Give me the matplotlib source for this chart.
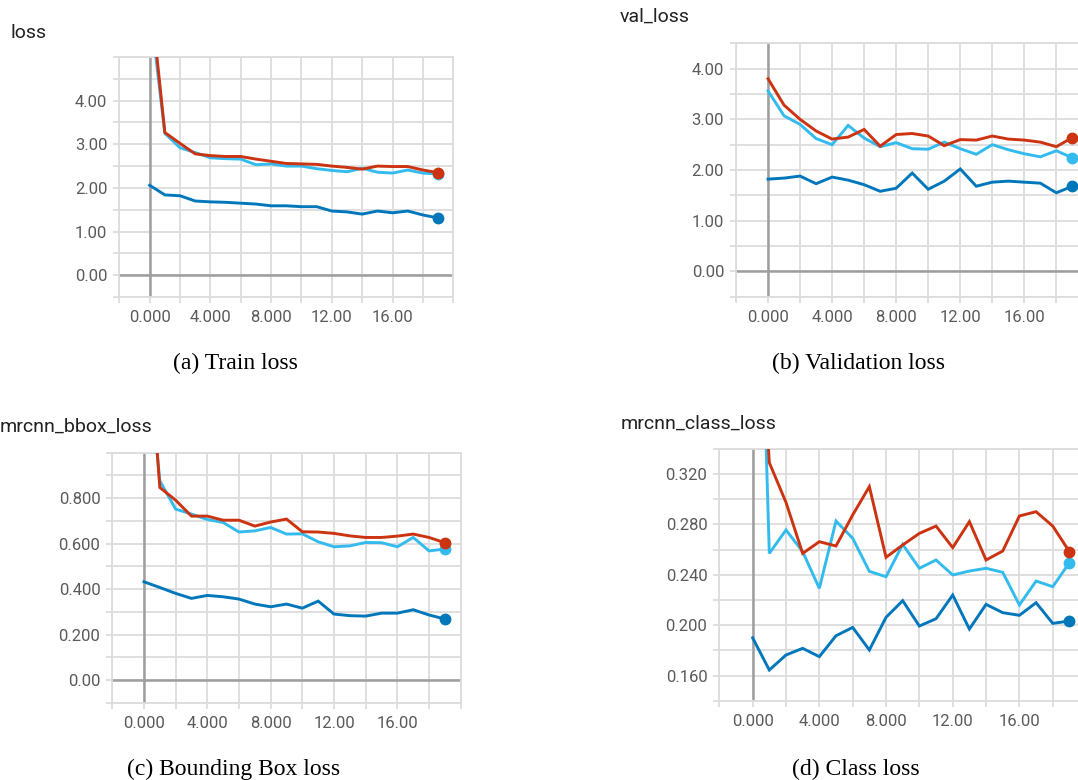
import numpy as np
import matplotlib
matplotlib.use("Agg")
import matplotlib.pyplot as plt

epochs = list(range(20))

# (a) Train loss
train_dark = [2.06, 1.84, 1.82, 1.70, 1.68, 1.67, 1.65, 1.63, 1.59, 1.59,
              1.57, 1.57, 1.47, 1.45, 1.40, 1.47, 1.43, 1.47, 1.38, 1.31]
train_light = [6.2, 3.25, 2.92, 2.81, 2.69, 2.67, 2.66, 2.53, 2.55, 2.50,
               2.50, 2.44, 2.40, 2.37, 2.45, 2.36, 2.34, 2.41, 2.34, 2.32]
train_red = [6.6, 3.27, 3.02, 2.78, 2.74, 2.72, 2.72, 2.66, 2.61, 2.56,
             2.55, 2.54, 2.50, 2.47, 2.43, 2.50, 2.49, 2.49, 2.41, 2.35]

# (b) Validation loss
val_dark = [1.82, 1.84, 1.88, 1.73, 1.86, 1.80, 1.71, 1.58, 1.64, 1.94,
            1.62, 1.78, 2.02, 1.68, 1.76, 1.78, 1.76, 1.74, 1.55, 1.68]
val_light = [3.56, 3.07, 2.90, 2.62, 2.50, 2.88, 2.63, 2.46, 2.54, 2.42,
             2.41, 2.55, 2.42, 2.31, 2.50, 2.40, 2.32, 2.26, 2.38, 2.24]
val_red = [3.80, 3.28, 3.00, 2.77, 2.61, 2.65, 2.80, 2.47, 2.70, 2.72,
           2.67, 2.48, 2.60, 2.59, 2.67, 2.61, 2.59, 2.55, 2.46, 2.64]

# (c) Bounding box loss
bbox_dark = [0.432, 0.407, 0.381, 0.359, 0.372, 0.366, 0.356, 0.334, 0.322, 0.334,
             0.316, 0.347, 0.290, 0.283, 0.281, 0.294, 0.294, 0.309, 0.286, 0.268]
bbox_light = [1.6, 0.876, 0.752, 0.730, 0.706, 0.693, 0.651, 0.656, 0.671, 0.642,
              0.643, 0.608, 0.586, 0.590, 0.605, 0.604, 0.586, 0.627, 0.568, 0.576]
bbox_red = [1.8, 0.847, 0.791, 0.721, 0.721, 0.703, 0.703, 0.677, 0.695, 0.708,
            0.652, 0.651, 0.645, 0.634, 0.627, 0.627, 0.633, 0.642, 0.627, 0.604]

# (d) Class loss
cls_dark = [0.190, 0.1645, 0.1764, 0.1817, 0.1751, 0.1917, 0.1983, 0.1804, 0.2063, 0.2195,
            0.1994, 0.2052, 0.2240, 0.1970, 0.2166, 0.2100, 0.2079, 0.2179, 0.2015, 0.2034]
cls_light = [0.70, 0.257, 0.2756, 0.2584, 0.2293, 0.2827, 0.2690, 0.2428, 0.2385, 0.2642,
             0.2452, 0.2518, 0.2399, 0.2430, 0.2452, 0.2420, 0.2161, 0.2351, 0.2306, 0.2497]
cls_red = [0.55, 0.329, 0.2975, 0.257, 0.2663, 0.2629, 0.2875, 0.310, 0.2539, 0.2637,
           0.2729, 0.2787, 0.2616, 0.2822, 0.2518, 0.2589, 0.2867, 0.2901, 0.2787, 0.2584]

titles = ["loss", "val_loss", "mrcnn_bbox_loss", "mrcnn_class_loss"]
captions = ["(a) Train loss", "(b) Validation loss", "(c) Bounding Box loss", "(d) Class loss"]
x_tick_labels = ["0.000", "4.000", "8.000", "12.00", "16.00"]

C_DARK = "#0077bb"
C_LIGHT = "#33bbee"
C_RED = "#cc3311"
GRID = "#dcdcdc"
ZERO = "#9e9e9e"
TICKC = "#5a5a5a"

fig = plt.figure(figsize=(10.78, 7.80), dpi=100)

W, H = 1078.0, 780.0

def make_axes(left_px, right_px, top_px, bottom_px):
    return fig.add_axes([left_px / W, 1 - bottom_px / H,
                         (right_px - left_px) / W, (bottom_px - top_px) / H])

panels = [
    dict(box=(119.3, 453.3, 57.0, 297.0), ylim=(-0.5, 5.0), ystep=0.5,
         yt=[0, 1, 2, 3, 4], ytl=["0.00", "1.00", "2.00", "3.00", "4.00"],
         data=(train_dark, train_light, train_red),
         title_xy=(10, 33), cap_xy=(235, 363)),
    dict(box=(736.0, 1088.4, 43.3, 296.7), ylim=(-0.5, 4.5), ystep=0.5,
         yt=[0, 1, 2, 3, 4], ytl=["0.00", "1.00", "2.00", "3.00", "4.00"],
         data=(val_dark, val_light, val_red),
         title_xy=(620, 17), cap_xy=(859, 363)),
    dict(box=(112.3, 460.7, 452.7, 702.7), ylim=(-0.1, 1.0), ystep=0.1,
         yt=[0, 0.2, 0.4, 0.6, 0.8], ytl=["0.00", "0.200", "0.400", "0.600", "0.800"],
         data=(bbox_dark, bbox_light, bbox_red),
         title_xy=(0, 427), cap_xy=(234, 769)),
    dict(box=(719.3, 1086.1, 448.8, 700.9), ylim=(0.14, 0.34), ystep=0.02,
         yt=[0.16, 0.20, 0.24, 0.28, 0.32], ytl=["0.160", "0.200", "0.240", "0.280", "0.320"],
         data=(cls_dark, cls_light, cls_red),
         title_xy=(621, 424), cap_xy=(856, 769)),
]

for i, p in enumerate(panels):
    ax = make_axes(*p["box"])
    ax.set_xlim(-2, 20)
    ax.set_ylim(*p["ylim"])
    xg = np.arange(-2, 20.01, 2)
    y0, y1 = p["ylim"]
    yg = np.round(np.arange(y0, y1 + p["ystep"] / 2, p["ystep"]), 4)
    ax.set_xticks(xg)
    ax.set_xticklabels([x_tick_labels[[0, 4, 8, 12, 16].index(int(v))] if int(v) in [0, 4, 8, 12, 16] else "" for v in xg])
    ylab = []
    for v in yg:
        match = [l for t, l in zip(p["yt"], p["ytl"]) if abs(t - v) < 1e-6]
        ylab.append(match[0] if match else "")
    ax.set_yticks(yg)
    ax.set_yticklabels(ylab)
    ax.grid(True, color=GRID, linewidth=1.3, zorder=0)
    ax.set_axisbelow(True)
    for s in ax.spines.values():
        s.set_color(GRID)
        s.set_linewidth(1.3)
    ax.tick_params(axis="both", direction="out", length=4.5, width=1.3, color=GRID,
                   labelcolor=TICKC, labelsize=12, pad=4)
    ax.tick_params(axis="x", pad=5)
    for lab in ax.get_xticklabels() + ax.get_yticklabels():
        lab.set_fontfamily("Roboto")
    ax.axhline(0, color=ZERO, linewidth=1.8, zorder=1)
    ax.axvline(0, color=ZERO, linewidth=1.8, zorder=1)
    d, l, r = p["data"]
    for series, c in ((d, C_DARK), (l, C_LIGHT), (r, C_RED)):
        ax.plot(epochs, series, color=c, linewidth=2.1, zorder=3, solid_joinstyle="miter")
        ax.plot(epochs[-1], series[-1], "o", color=c, markersize=7.5, zorder=4, clip_on=False)
    tx, ty = p["title_xy"]
    fig.text(tx / W, 1 - ty / H, titles[i], fontsize=14, family="Roboto",
             color="#212121", ha="left", va="center")
    cx, cy = p["cap_xy"]
    fig.text(cx / W, 1 - cy / H, captions[i], fontsize=17, family="Liberation Serif",
             color="black", ha="center", va="center")

fig.savefig("out.png", dpi=100)
